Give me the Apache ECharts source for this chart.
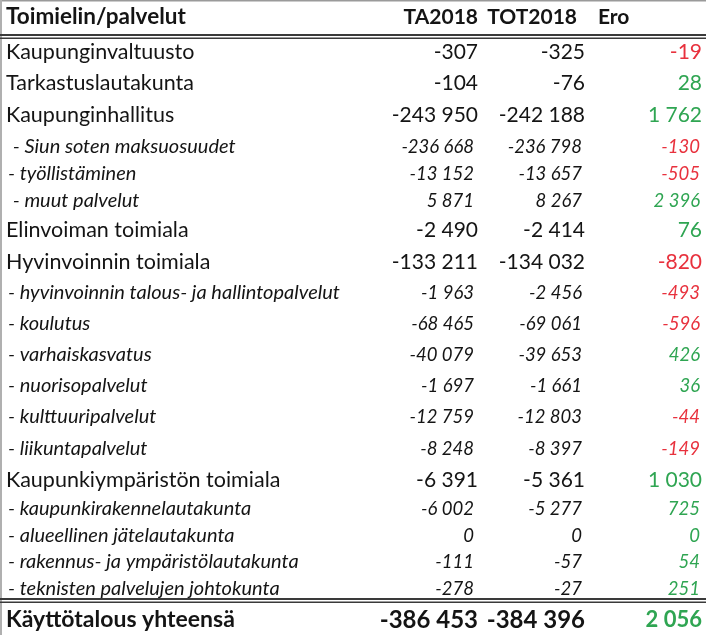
<!DOCTYPE html>
<html>
<head>
<meta charset="utf-8">
<script src="https://cdn.jsdelivr.net/npm/echarts@6/dist/echarts.min.js"></script>
<style>
html,body{margin:0;padding:0;background:#fff;}
#chart{width:706px;height:635px;}
</style>
</head>
<body>
<div id="chart"></div>
<script>
// ---- data ----
var headers = ['Toimielin/palvelut', 'TA2018', 'TOT2018', 'Ero'];
var names = [
  'Kaupunginvaltuusto',
  'Tarkastuslautakunta',
  'Kaupunginhallitus',
  ' - Siun soten maksuosuudet',
  '- työllistäminen',
  ' - muut palvelut',
  'Elinvoiman toimiala',
  'Hyvinvoinnin toimiala',
  '- hyvinvoinnin talous- ja hallintopalvelut',
  '- koulutus',
  '- varhaiskasvatus',
  '- nuorisopalvelut',
  '- kulttuuripalvelut',
  '- liikuntapalvelut',
  'Kaupunkiympäristön toimiala',
  '- kaupunkirakennelautakunta',
  '- alueellinen jätelautakunta',
  '- rakennus- ja ympäristölautakunta',
  '- teknisten palvelujen johtokunta'
];
var isSub = [0,0,0,1,1,1,0,0,1,1,1,1,1,1,0,1,1,1,1];
var ta  = [-307, -104, -243950, -236668, -13152, 5871, -2490, -133211, -1963, -68465, -40079, -1697, -12759, -8248, -6391, -6002, 0, -111, -278];
var tot = [-325, -76, -242188, -236798, -13657, 8267, -2414, -134032, -2456, -69061, -39653, -1661, -12803, -8397, -5361, -5277, 0, -57, -27];
var ero = [-19, 28, 1762, -130, -505, 2396, 76, -820, -493, -596, 426, 36, -44, -149, 1030, 725, 0, 54, 251];
var totalName = 'Käyttötalous yhteensä';
var totalTa = -386453, totalTot = -384396, totalEro = 2056;

// ---- layout (pixel positions of row centres, column right edges) ----
var headerY = 17;
var rowY = [52, 83, 115, 147, 174, 201, 230, 262, 293, 324, 355, 386, 417, 449, 480, 509, 536, 562, 589];
var totalY = 620;
var colNameX = 6;
var mainCols = [478, 585, 702];
var subCols = [474, 582, 700];

var FONT = 'Lato, "Open Sans", sans-serif';
var BLACK = '#141414', RED = '#e8313d', GREEN = '#2fa552';

function fmt(v) {
  var s = Math.abs(v).toString().replace(/\B(?=(\d{3})+(?!\d))/g, ' ');
  return (v < 0 ? '-' : '') + s;
}

var rows = names.map(function (n, i) {
  return [i, rowY[i]];
});

function txt(x, y, s, opt) {
  return {
    type: 'text',
    x: x, y: y,
    style: {
      text: s,
      fill: opt.color || BLACK,
      font: (opt.italic ? 'italic ' : '') + (opt.bold ? 'bold ' : '') + opt.size + 'px ' + FONT,
      align: opt.align || 'left',
      verticalAlign: 'middle'
    }
  };
}

var chart = echarts.init(document.getElementById('chart'), null, {renderer: 'canvas'});
chart.setOption({
  animation: false,
  backgroundColor: '#fff',
  grid: {left: 0, right: 0, top: 0, bottom: 0},
  xAxis: {type: 'value', min: 0, max: 706, show: false},
  yAxis: {type: 'value', min: 0, max: 635, inverse: true, show: false},
  series: [
    {
      type: 'custom',
      data: rows,
      renderItem: function (params, api) {
        var i = api.value(0);
        var y = api.coord([0, api.value(1)])[1];
        var sub = isSub[i] === 1;
        var xs = function (x) { return api.coord([x, 0])[0]; };
        var cols = sub ? subCols : mainCols;
        var nameSize = sub ? 20 : 21.5;
        var numSize = sub ? 18.5 : 21;
        return {
          type: 'group',
          children: [
            txt(xs(sub ? 8 : colNameX), y, names[i], {size: nameSize, italic: sub}),
            txt(xs(cols[0]), y, fmt(ta[i]), {size: numSize, italic: sub, align: 'right'}),
            txt(xs(cols[1]), y, fmt(tot[i]), {size: numSize, italic: sub, align: 'right'}),
            txt(xs(cols[2]), y, fmt(ero[i]), {size: numSize, italic: sub, align: 'right', color: ero[i] < 0 ? RED : GREEN})
          ]
        };
      }
    },
    {
      type: 'custom',
      data: [[0, headerY, totalY]],
      renderItem: function (params, api) {
        var hy = api.coord([0, api.value(1)])[1];
        var ty = api.coord([0, api.value(2)])[1];
        var xs = function (x) { return api.coord([x, 0])[0]; };
        return {
          type: 'group',
          children: [
            txt(xs(6), hy, headers[0], {size: 22.5, bold: true}),
            txt(xs(478), hy, headers[1], {size: 21, bold: true, align: 'right'}),
            txt(xs(577), hy, headers[2], {size: 21, bold: true, align: 'right'}),
            txt(xs(598), hy, headers[3], {size: 21, bold: true}),
            txt(xs(colNameX), ty, totalName, {size: 23, bold: true}),
            txt(xs(mainCols[0]), ty, fmt(totalTa), {size: 24, bold: true, align: 'right'}),
            txt(xs(mainCols[1]), ty, fmt(totalTot), {size: 24, bold: true, align: 'right'}),
            txt(xs(mainCols[2]), ty, fmt(totalEro), {size: 22, bold: true, align: 'right', color: GREEN})
          ]
        };
      }
    }
  ],
  graphic: [
    {type: 'rect', shape: {x: 0, y: 0, width: 706, height: 1.5}, style: {fill: '#9a9a9a'}, silent: true},
    {type: 'rect', shape: {x: 0, y: 0, width: 2, height: 635}, style: {fill: '#b0b0b0'}, silent: true},
    {type: 'rect', shape: {x: 0, y: 34, width: 706, height: 2}, style: {fill: '#3a3a3a'}, silent: true},
    {type: 'rect', shape: {x: 0, y: 37.5, width: 706, height: 1.5}, style: {fill: '#3a3a3a'}, silent: true},
    {type: 'rect', shape: {x: 0, y: 598, width: 706, height: 2}, style: {fill: '#3a3a3a'}, silent: true},
    {type: 'rect', shape: {x: 0, y: 601.5, width: 706, height: 1.5}, style: {fill: '#3a3a3a'}, silent: true}
  ]
});
</script>
</body>
</html>
